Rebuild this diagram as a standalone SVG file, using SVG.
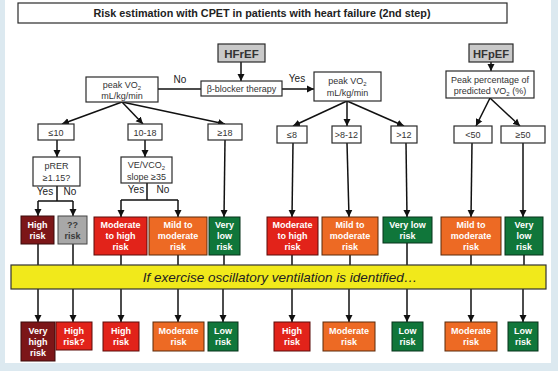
<svg xmlns="http://www.w3.org/2000/svg" width="558" height="371" viewBox="0 0 558 371">
<style>
text{font-family:"Liberation Sans",Arial,sans-serif;text-anchor:middle}
.wb{fill:#fff;stroke:#2a2a2a;stroke-width:1.2}
.gb{fill:#c9c9c9;stroke:#2a2a2a;stroke-width:1.2}
.t9{font-size:9px;fill:#333}
.hd{font-size:11.5px;font-weight:bold;fill:#333}
.lbl{font-size:10px;fill:#222}
.rk{font-size:9px;font-weight:bold;fill:#fff}
.dr{fill:#7c1618;stroke:#3a0a0a;stroke-width:1}
.rd{fill:#e2231a;stroke:#5a0d0a;stroke-width:1}
.or{fill:#ed6a24;stroke:#5a2a0a;stroke-width:1}
.gn{fill:#10763a;stroke:#06331a;stroke-width:1}
.gy{fill:#a8a8a8;stroke:#444;stroke-width:1}
.c line,.c path{stroke:#111;stroke-width:1.5;fill:none}
.a{marker-end:url(#ah)}
</style>
<defs>
<marker id="ah" markerUnits="userSpaceOnUse" markerWidth="8" markerHeight="8" refX="7" refY="4" orient="auto"><path d="M0,0.5 L7,4 L0,7.5 z" fill="#111"/></marker>
</defs>
<rect x="0" y="0" width="558" height="371" fill="#dce9f0"/>
<rect x="5" y="0" width="546" height="363" fill="#fff"/>

<g id="title"><rect class="wb" x="18" y="3" width="489" height="20"/><text x="262" y="17" font-size="11" font-weight="bold" fill="#222" textLength="337" lengthAdjust="spacingAndGlyphs">Risk estimation with CPET in patients with heart failure (2nd step)</text></g>

<g class="c" id="connectors">
<line class="a" x1="241" y1="62" x2="241" y2="81"/>
<line x1="201" y1="89" x2="158" y2="89"/>
<line class="a" x1="282" y1="89" x2="314" y2="89"/>
<line class="a" x1="491" y1="62" x2="491" y2="71"/>
<line class="a" x1="122" y1="102" x2="62" y2="124"/>
<line class="a" x1="122" y1="102" x2="143" y2="124"/>
<line class="a" x1="122" y1="102" x2="225" y2="124"/>
<line class="a" x1="347" y1="101" x2="293" y2="126"/>
<line class="a" x1="347" y1="101" x2="347" y2="126"/>
<line class="a" x1="347" y1="101" x2="404" y2="126"/>
<line class="a" x1="490" y1="98" x2="476" y2="126"/>
<line class="a" x1="490" y1="98" x2="520" y2="126"/>
<line class="a" x1="57" y1="140" x2="57" y2="157"/>
<path d="M57,186 V201 M38,201 H73"/>
<line class="a" x1="38" y1="201" x2="38" y2="216"/>
<line class="a" x1="73" y1="201" x2="73" y2="216"/>
<line class="a" x1="145" y1="140" x2="145" y2="157"/>
<path d="M147,183 V200 M121,200 H178"/>
<line class="a" x1="121" y1="200" x2="121" y2="217"/>
<line class="a" x1="178" y1="200" x2="178" y2="217"/>
<line class="a" x1="225" y1="140" x2="224" y2="217"/>
<line class="a" x1="293" y1="143" x2="292" y2="217"/>
<line class="a" x1="347" y1="143" x2="349" y2="217"/>
<line class="a" x1="406" y1="143" x2="407" y2="217"/>
<line class="a" x1="472" y1="143" x2="471" y2="217"/>
<line class="a" x1="523" y1="143" x2="523" y2="217"/>
<path d="M38,244 V265 M73,244 V265 M121,255 V265 M178,255 V265 M224,255 V265 M292,255 V265 M350,255 V265 M407,243 V265 M471,255 V265 M524,255 V265"/>
<line class="a" x1="38" y1="289" x2="38" y2="322"/>
<line class="a" x1="73" y1="289" x2="73" y2="322"/>
<line class="a" x1="121" y1="289" x2="121" y2="322"/>
<line class="a" x1="178" y1="289" x2="178" y2="322"/>
<line class="a" x1="223" y1="289" x2="223" y2="322"/>
<line class="a" x1="292" y1="289" x2="292" y2="322"/>
<line class="a" x1="349" y1="289" x2="349" y2="322"/>
<line class="a" x1="407" y1="289" x2="407" y2="322"/>
<line class="a" x1="471" y1="289" x2="471" y2="322"/>
<line class="a" x1="523" y1="289" x2="523" y2="322"/>
</g>

<g id="labels">
<text class="lbl" x="180" y="83">No</text>
<text class="lbl" x="297" y="82">Yes</text>
<text class="lbl" x="45" y="195" font-size="9.5">Yes</text>
<text class="lbl" x="70" y="195" font-size="9.5">No</text>
<text class="lbl" x="136" y="193" font-size="9.5">Yes</text>
<text class="lbl" x="163" y="193" font-size="9.5">No</text>
</g>

<g id="hfref"><rect class="gb" x="218" y="44" width="47" height="18"/><text class="hd" x="241.5" y="57.5">HFrEF</text></g>
<g id="hfpef"><rect class="gb" x="469" y="44" width="44" height="18"/><text class="hd" x="491" y="57.5" textLength="36" lengthAdjust="spacingAndGlyphs">HFpEF</text></g>
<g id="beta"><rect class="wb" x="201" y="81" width="81" height="15"/><text class="t9" x="241.5" y="92">β-blocker therapy</text></g>
<g id="peakvo2-left"><rect class="wb" x="86" y="77" width="72" height="25"/><text class="t9" x="122" y="87.5">peak VO<tspan font-size="6" dy="2">2</tspan></text><text class="t9" x="122" y="98.5">mL/kg/min</text></g>
<g id="peakvo2-right"><rect class="wb" x="314" y="72" width="67" height="29"/><text class="t9" x="347.5" y="84">peak VO<tspan font-size="6" dy="2">2</tspan></text><text class="t9" x="347.5" y="96">mL/kg/min</text></g>
<g id="peakpct"><rect class="wb" x="446" y="71" width="88" height="27"/><text class="t9" x="490" y="82.5">Peak percentage of</text><text class="t9" x="490" y="94">predicted VO<tspan font-size="6" dy="2">2</tspan><tspan dy="-2"> (%)</tspan></text></g>

<g id="le10"><rect class="wb" x="38" y="124" width="36" height="16"/><text class="t9" x="56" y="135.5">≤10</text></g>
<g id="r10-18"><rect class="wb" x="128" y="124" width="34" height="16"/><text class="t9" x="145" y="135.5">10-18</text></g>
<g id="ge18"><rect class="wb" x="208" y="124" width="34" height="16"/><text class="t9" x="225" y="135.5">≥18</text></g>
<g id="le8"><rect class="wb" x="277" y="126" width="30" height="17"/><text class="t9" x="292" y="138">≤8</text></g>
<g id="r8-12"><rect class="wb" x="332" y="126" width="29" height="17"/><text class="t9" x="346.5" y="138">&gt;8-12</text></g>
<g id="gt12"><rect class="wb" x="391" y="126" width="26" height="17"/><text class="t9" x="404" y="138">&gt;12</text></g>
<g id="lt50"><rect class="wb" x="454" y="126" width="38" height="17"/><text class="t9" x="473" y="138">&lt;50</text></g>
<g id="ge50"><rect class="wb" x="501" y="126" width="44" height="17"/><text class="t9" x="523" y="138">≥50</text></g>

<g id="prer"><rect class="wb" x="33" y="157" width="47" height="29"/><text class="t9" x="56.5" y="168.5">pRER</text><text class="t9" x="56.5" y="180.5">≥1.15?</text></g>
<g id="vevco2"><rect class="wb" x="121" y="157" width="51" height="26"/><text class="t9" x="146.5" y="168">VE/VCO<tspan font-size="6" dy="2">2</tspan></text><text class="t9" x="146.5" y="179.5">slope ≥35</text></g>

<g id="r1-high"><rect class="dr" x="21" y="216" width="33" height="28"/><text class="rk" x="37.5" y="228">High</text><text class="rk" x="37.5" y="239">risk</text></g>
<g id="r1-unknown"><rect class="gy" x="58" y="216" width="29" height="28"/><text class="rk" x="72.5" y="228" style="fill:#3a3a3a">??</text><text class="rk" x="72.5" y="239" style="fill:#3a3a3a">risk</text></g>
<g id="r1-modhigh-a"><rect class="rd" x="94" y="217" width="53" height="38"/><text class="rk" x="120.5" y="228">Moderate</text><text class="rk" x="120.5" y="239">to high</text><text class="rk" x="120.5" y="250">risk</text></g>
<g id="r1-mildmod-a"><rect class="or" x="149" y="217" width="58" height="38"/><text class="rk" x="178" y="228">Mild  to</text><text class="rk" x="178" y="239">moderate</text><text class="rk" x="178" y="250">risk</text></g>
<g id="r1-verylow-a"><rect class="gn" x="209" y="217" width="31" height="38"/><text class="rk" x="224.5" y="228">Very</text><text class="rk" x="224.5" y="239">low</text><text class="rk" x="224.5" y="250">risk</text></g>
<g id="r1-modhigh-b"><rect class="rd" x="267" y="217" width="51" height="38"/><text class="rk" x="292.5" y="228">Moderate</text><text class="rk" x="292.5" y="239">to high</text><text class="rk" x="292.5" y="250">risk</text></g>
<g id="r1-mildmod-b"><rect class="or" x="322" y="217" width="56" height="38"/><text class="rk" x="350" y="228">Mild to</text><text class="rk" x="350" y="239">moderate</text><text class="rk" x="350" y="250">risk</text></g>
<g id="r1-verylow-b"><rect class="gn" x="383" y="217" width="49" height="26"/><text class="rk" x="407.5" y="228">Very low</text><text class="rk" x="407.5" y="239">risk</text></g>
<g id="r1-mildmod-c"><rect class="or" x="441" y="217" width="60" height="38"/><text class="rk" x="471" y="228">Mild to</text><text class="rk" x="471" y="239">moderate</text><text class="rk" x="471" y="250">risk</text></g>
<g id="r1-verylow-c"><rect class="gn" x="505" y="217" width="38" height="38"/><text class="rk" x="524" y="228">Very</text><text class="rk" x="524" y="239">low</text><text class="rk" x="524" y="250">risk</text></g>

<g id="eov"><rect x="11" y="265" width="535" height="24" fill="#f1e91b" stroke="#333" stroke-width="1.2"/><text x="280" y="282" font-size="13.5" font-style="italic" fill="#222">If exercise oscillatory ventilation is identified…</text></g>

<g id="r2-veryhigh"><rect class="dr" x="21" y="322" width="34" height="39"/><text class="rk" x="38" y="334">Very</text><text class="rk" x="38" y="345">high</text><text class="rk" x="38" y="356">risk</text></g>
<g id="r2-highq"><rect class="rd" x="56" y="322" width="36" height="28"/><text class="rk" x="74" y="334">High</text><text class="rk" x="74" y="345">risk?</text></g>
<g id="r2-high-a"><rect class="rd" x="103" y="322" width="36" height="29"/><text class="rk" x="121" y="334">High</text><text class="rk" x="121" y="345">risk</text></g>
<g id="r2-mod-a"><rect class="or" x="153" y="322" width="51" height="29"/><text class="rk" x="178.5" y="334">Moderate</text><text class="rk" x="178.5" y="345">risk</text></g>
<g id="r2-low-a"><rect class="gn" x="208" y="322" width="30" height="29"/><text class="rk" x="223" y="334">Low</text><text class="rk" x="223" y="345">risk</text></g>
<g id="r2-high-b"><rect class="rd" x="274" y="322" width="36" height="29"/><text class="rk" x="292" y="334">High</text><text class="rk" x="292" y="345">risk</text></g>
<g id="r2-mod-b"><rect class="or" x="323" y="322" width="52" height="29"/><text class="rk" x="349" y="334">Moderate</text><text class="rk" x="349" y="345">risk</text></g>
<g id="r2-low-b"><rect class="gn" x="392" y="322" width="31" height="29"/><text class="rk" x="407.5" y="334">Low</text><text class="rk" x="407.5" y="345">risk</text></g>
<g id="r2-mod-c"><rect class="or" x="445" y="322" width="52" height="29"/><text class="rk" x="471" y="334">Moderate</text><text class="rk" x="471" y="345">risk</text></g>
<g id="r2-low-c"><rect class="gn" x="508" y="322" width="30" height="29"/><text class="rk" x="523" y="334">Low</text><text class="rk" x="523" y="345">risk</text></g>
</svg>
